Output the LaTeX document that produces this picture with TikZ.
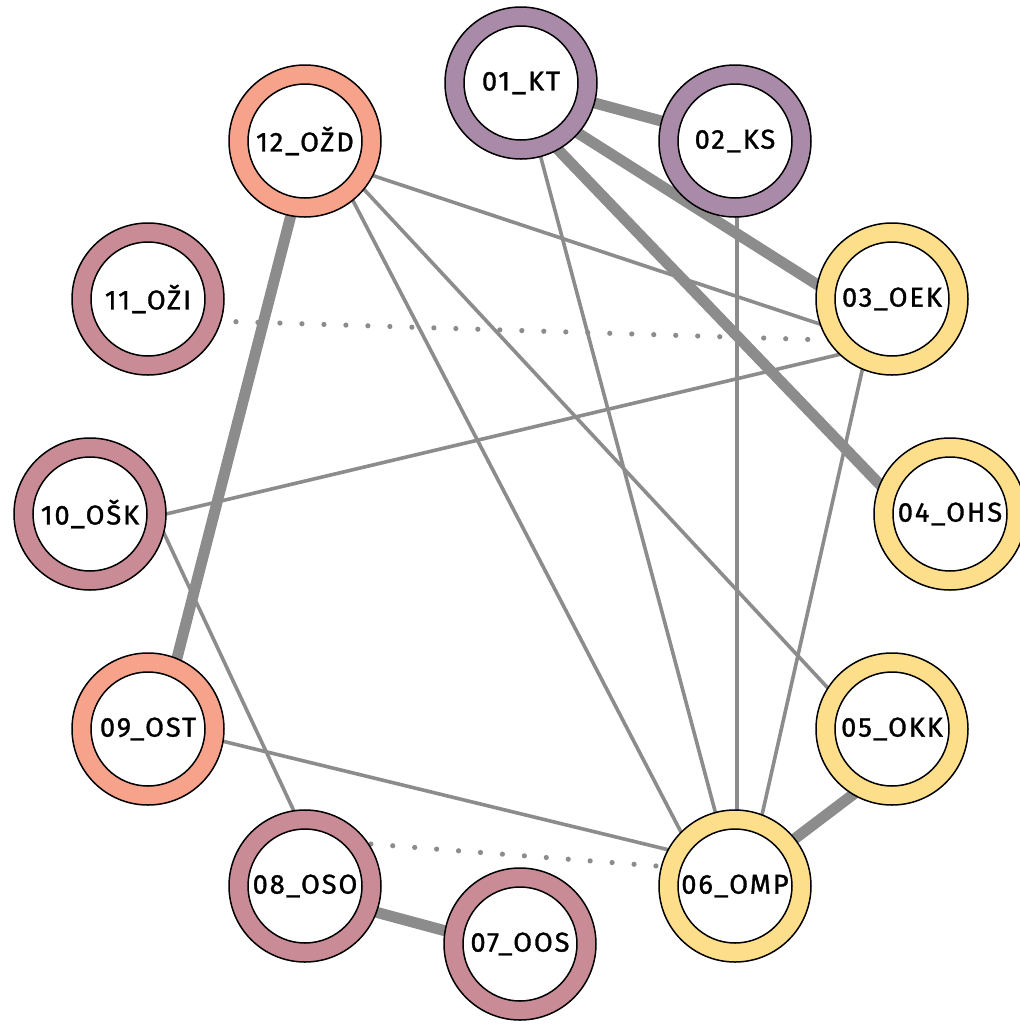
\documentclass[tikz,border=0pt]{standalone}
\usepackage{fontspec}
\setmainfont{Fira Sans}[LetterSpace=7, FakeBold=1.2]
\pgfdeclarelayer{bg}
\pgfsetlayers{bg,main}
\definecolor{cmauve}{HTML}{A98AA8}
\definecolor{csalmon}{HTML}{F7A28B}
\definecolor{crose}{HTML}{C98B95}
\definecolor{cyellow}{HTML}{FDDF8B}
\definecolor{cedge}{HTML}{8C8C8C}
\tikzset{
  nd/.style={circle, draw=black, line width=0.75pt, minimum size=76pt, inner sep=0pt,
    font=\fontsize{13.6pt}{15pt}\selectfont,
    path picture={\draw[line width=0.75pt, fill=white] (path picture bounding box.center) circle[radius=28.5pt];}},
  thickedge/.style={draw=cedge, line width=5.5pt},
  thinedge/.style={draw=cedge, line width=1.8pt},
  dotedge/.style={draw=cedge, line width=2.6pt, line cap=round, dash pattern=on 0pt off 11pt}
}
\begin{document}
\begin{tikzpicture}[x=0.5pt,y=-0.5pt]
\useasboundingbox (0,0) rectangle (1020,1024);
\node[nd, fill=cmauve] (n01) at (521,83) {01\_KT};
\node[nd, fill=cmauve] (n02) at (735,141) {02\_KS};
\node[nd, fill=cyellow] (n03) at (892,299) {03\_OEK};
\node[nd, fill=cyellow] (n04) at (950,514) {04\_OHS};
\node[nd, fill=cyellow] (n05) at (892,729) {05\_OKK};
\node[nd, fill=cyellow] (n06) at (735,886) {06\_OMP};
\node[nd, fill=crose] (n07) at (520,944) {07\_OOS};
\node[nd, fill=crose] (n08) at (305,886) {08\_OSO};
\node[nd, fill=csalmon] (n09) at (148,729) {09\_OST};
\node[nd, fill=crose] (n10) at (90,514) {10\_OŠK};
\node[nd, fill=crose] (n11) at (148,299) {11\_OŽI};
\node[nd, fill=csalmon] (n12) at (305,141) {12\_OŽD};
\begin{pgfonlayer}{bg}
\draw[thickedge] (n01.center) -- (n02.center);
\draw[thickedge] ([shift={(0,14)}]n01.center) -- ([shift={(0,33)}]n03.center);
\draw[thickedge] ([shift={(-27,0)}]n01.center) -- ([shift={(-38,4)}]n04.center);
\draw[thinedge] (n01.center) -- (n06.center);
\draw[thinedge] ([shift={(2,0)}]n02.center) -- ([shift={(2,0)}]n06.center);
\draw[thinedge] ([shift={(0,12)}]n12.center) -- ([shift={(0,49)}]n03.center);
\draw[thinedge] ([shift={(17,0)}]n12.center) -- ([shift={(-26,0)}]n06.center);
\draw[thinedge] ([shift={(14,0)}]n12.center) -- ([shift={(-26,0)}]n05.center);
\draw[thinedge] ([shift={(0,43)}]n03.center) -- ([shift={(0,18)}]n10.center);
\draw[thinedge] ([shift={(-14,1)}]n03.center) -- ([shift={(11,0)}]n06.center);
\draw[thinedge] ([shift={(65,0)}]n10.center) -- ([shift={(24,0)}]n08.center);
\draw[thinedge] ([shift={(0,-6)}]n09.center) -- ([shift={(0,-20)}]n06.center);
\draw[thickedge] ([shift={(5,0)}]n12.center) -- ([shift={(11,-1)}]n09.center);
\draw[thickedge] ([shift={(0,36)}]n05.center) -- ([shift={(0,-2)}]n06.center);
\draw[thickedge] ([shift={(0,7)}]n08.center) -- ([shift={(0,7)}]n07.center);
\draw[dotedge] ([shift={(0,20)}]n11.center) -- ([shift={(0,43)}]n03.center);
\draw[dotedge] ([shift={(0,-47)}]n08.center) -- ([shift={(0,-14)}]n06.center);
\end{pgfonlayer}
\end{tikzpicture}
\end{document}
